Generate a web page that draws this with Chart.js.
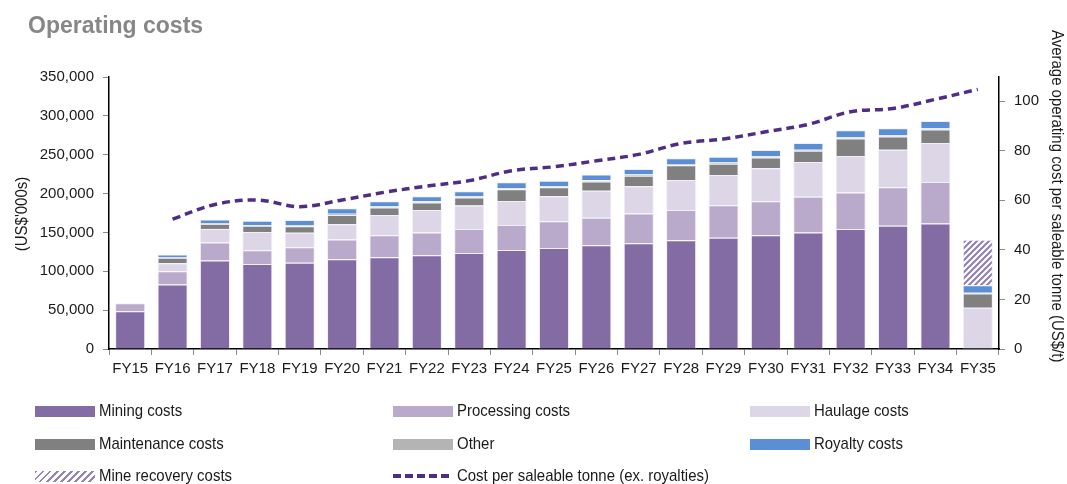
<!DOCTYPE html>
<html lang="en">
<head>
<meta charset="UTF-8">
<title>Operating costs</title>
<script src="https://cdn.jsdelivr.net/npm/chart.js@4.4.1/dist/chart.umd.min.js"></script>
<style>
  body { margin: 0; background: #fff; }
  #wrap { position: relative; width: 1067px; height: 484px; overflow: hidden;
          font-family: "Liberation Sans", Arial, sans-serif; }
  #chart { position: absolute; left: 0; top: 0; }
  .item { position: absolute; display: flex; align-items: center; font-size: 17px;
          color: #1a1a1a; white-space: nowrap; transform: translateY(-50%); }
  .sw { width: 60px; height: 11px; margin-right: 4px; flex: none; }
  .txt { display: inline-block; transform: scaleX(0.88); transform-origin: left center; }
</style>
</head>
<body>
<div id="wrap">
  <canvas id="chart" width="1067" height="484"></canvas>
  <div id="legend"></div>
</div>
<script>
// categories and values (US$'000s)
const years = ['FY15','FY16','FY17','FY18','FY19','FY20','FY21','FY22','FY23','FY24','FY25',
               'FY26','FY27','FY28','FY29','FY30','FY31','FY32','FY33','FY34','FY35'];

const mining      = [48500, 83000, 114000, 109500, 111000, 115500, 118000, 120500, 123500, 127500, 130000,
                     133500, 136000, 140000, 143000, 146500, 150000, 154500, 158500, 161500, null];
const processing  = [10500, 17000, 23000, 17500, 20000, 25500, 28500, 29500, 31000, 32000, 34500,
                     35500, 38500, 39000, 42000, 43500, 46000, 47000, 49500, 53500, null];
const haulage     = [null, 10500, 17500, 23500, 18500, 19500, 26000, 29000, 30000, 31000, 32000,
                     34500, 35000, 38500, 39000, 42500, 44500, 47000, 48500, 50000, 53000];
const maintenance = [null, 7000, 6500, 8000, 8500, 12000, 9500, 9500, 10500, 15000, 11500,
                     12000, 13500, 19000, 14500, 14000, 14500, 22500, 17000, 17500, 18500];
const other       = [null, 1000, 1000, 1000, 1000, 1500, 1500, 1500, 1500, 1500, 1500,
                     1500, 1500, 1500, 1500, 1500, 1500, 1500, 1500, 1500, 1000];
const royalty     = [null, 3000, 4500, 5500, 7000, 7000, 6500, 6500, 6500, 7500, 7000,
                     7500, 7000, 7500, 7500, 8000, 8500, 9000, 9000, 9500, 9500];
const recovery    = [null, null, null, null, null, null, null, null, null, null, null,
                     null, null, null, null, null, null, null, null, null, 58500];

// average cost per saleable tonne (US$/t), right axis
const costPerTonne = [null, 52.4, 58.3, 60.1, 57.4, 60.1, 63.2, 65.7, 67.9, 71.9, 73.5,
                      75.9, 78.5, 82.9, 84.7, 87.6, 90.6, 95.7, 97.0, 100.7, 104.7];

const leftTicks  = { min: 0, max: 350000, step: 50000 };
const rightTicks = { min: 0, max: 109.7, step: 20 };

const FONT = '"Liberation Sans", Arial, sans-serif';

// diagonal hatch for mine recovery costs
function hatch(color) {
  const c = document.createElement('canvas');
  c.width = 6; c.height = 6;
  const g = c.getContext('2d');
  g.fillStyle = '#fff';
  g.fillRect(0, 0, 6, 6);
  g.strokeStyle = color;
  g.lineWidth = 2;
  g.beginPath();
  g.moveTo(-1, 7); g.lineTo(7, -1);
  g.moveTo(-4, 4); g.lineTo(4, -4);
  g.moveTo(2, 10); g.lineTo(10, 2);
  g.stroke();
  return g.createPattern(c, 'repeat');
}

const series = [
  { label: 'Mining costs',      data: mining,      color: '#836ca4' },
  { label: 'Processing costs',  data: processing,  color: '#b9a9cb' },
  { label: 'Haulage costs',     data: haulage,     color: '#ddd6e6' },
  { label: 'Maintenance costs', data: maintenance, color: '#808080' },
  { label: 'Other',             data: other,       color: '#b4b4b4' },
  { label: 'Royalty costs',     data: royalty,     color: '#5a8fd6' },
  { label: 'Mine recovery costs', data: recovery,  color: hatch('#8f7fb0'), hatched: true }
];
const lineColor = '#4f2d84';

const datasets = series.map(s => ({
  type: 'bar',
  label: s.label,
  data: s.data,
  backgroundColor: s.color,
  borderColor: '#f2eff7',
  borderWidth: 1,
  yAxisID: 'y',
  order: 1,
  barPercentage: 0.71,
  categoryPercentage: 1
}));
datasets.push({
  type: 'line',
  label: 'Cost per saleable tonne (ex. royalties)',
  data: costPerTonne,
  borderColor: lineColor,
  borderWidth: 3.5,
  borderDash: [8, 5],
  pointRadius: 0,
  tension: 0.35,
  fill: false,
  yAxisID: 'y1',
  order: 0
});

// chart title and axis titles, condensed a little
const textPlugin = {
  id: 'texts',
  afterDraw(chart) {
    const ctx = chart.ctx;
    ctx.save();
    ctx.fillStyle = '#878787';
    ctx.font = 'bold 23px ' + FONT;
    ctx.textBaseline = 'middle';
    ctx.textAlign = 'left';
    ctx.fillText('Operating costs', 28, 27);

    ctx.fillStyle = '#1a1a1a';
    ctx.font = '17px ' + FONT;
    ctx.save();
    ctx.translate(22, 214);
    ctx.rotate(-Math.PI / 2);
    ctx.scale(0.88, 1);
    ctx.textAlign = 'center';
    ctx.fillText("(US$'000s)", 0, 0);
    ctx.restore();

    ctx.save();
    ctx.translate(1057, 30);
    ctx.rotate(Math.PI / 2);
    ctx.scale(0.88, 1);
    ctx.textAlign = 'left';
    ctx.fillText('Average operating cost per saleable tonne (US$/t)', 0, 0);
    ctx.restore();
    ctx.restore();
  }
};

const axisGrid = { drawOnChartArea: false, drawTicks: true, tickLength: 6, color: '#8a8a8a' };
const axisBorder = { display: true, color: '#000', width: 1.5 };
const tickFont = { family: FONT, size: 15 };

new Chart(document.getElementById('chart'), {
  data: { labels: years, datasets },
  plugins: [textPlugin],
  options: {
    responsive: false,
    animation: false,
    devicePixelRatio: 1,
    layout: { padding: { top: 77, left: 0, right: 0, bottom: 0 } },
    plugins: { legend: { display: false }, tooltip: { enabled: false } },
    scales: {
      x: {
        stacked: true,
        grid: Object.assign({ offset: true }, axisGrid),
        border: axisBorder,
        ticks: { color: '#1a1a1a', font: tickFont, padding: 5, maxRotation: 0, autoSkip: false },
        afterFit: s => { s.height = 135; }
      },
      y: {
        stacked: true,
        position: 'left',
        min: leftTicks.min, max: leftTicks.max,
        grid: axisGrid,
        border: axisBorder,
        ticks: { stepSize: leftTicks.step, color: '#1a1a1a', font: tickFont, padding: 9,
                 callback: v => v.toLocaleString('en-US') },
        afterFit: s => { s.width = 109; }
      },
      y1: {
        position: 'right',
        min: rightTicks.min, max: rightTicks.max,
        grid: axisGrid,
        border: axisBorder,
        ticks: { stepSize: rightTicks.step, includeBounds: false, color: '#1a1a1a', font: tickFont, padding: 9 },
        afterFit: s => { s.width = 68; }
      }
    }
  }
});

// legend in three columns below the plot
const legendCols = [35, 393, 750];
const legendRows = [411, 444, 476];
const legendItems = series.map(s => ({
  label: s.label,
  css: s.hatched
    ? 'background: repeating-linear-gradient(135deg, #9485b3 0 2px, #fff 2px 5px);'
    : 'background:' + s.color + ';'
}));
legendItems.push({
  label: 'Cost per saleable tonne (ex. royalties)',
  css: 'height:4px; background: repeating-linear-gradient(90deg, ' + lineColor + ' 0 8px, transparent 8px 12px);'
});
const legend = document.getElementById('legend');
legendItems.forEach((it, i) => {
  const el = document.createElement('div');
  el.className = 'item';
  el.style.left = legendCols[i % 3] + 'px';
  el.style.top = legendRows[Math.floor(i / 3)] + 'px';
  el.innerHTML = '<span class="sw" style="' + it.css + '"></span><span class="txt">' + it.label + '</span>';
  legend.appendChild(el);
});
</script>
</body>
</html>
